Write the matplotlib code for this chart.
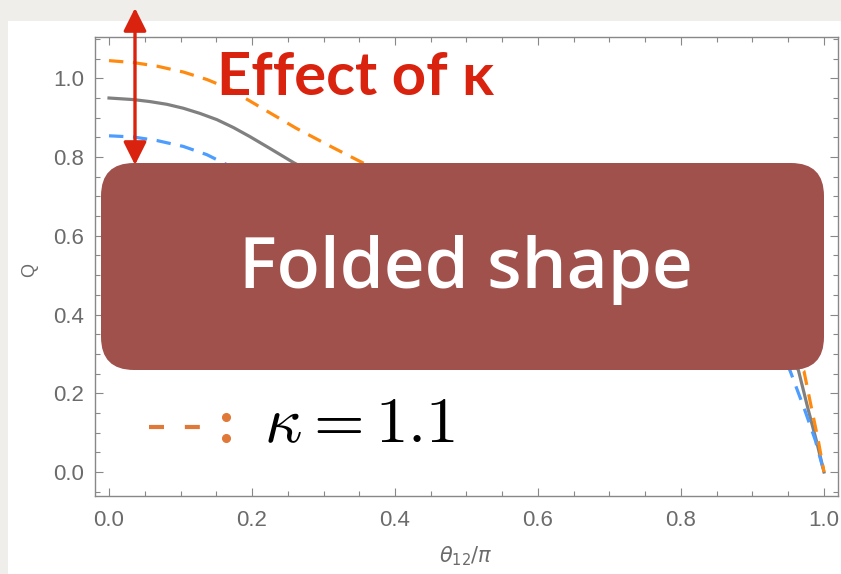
import matplotlib
matplotlib.use("Agg")
import matplotlib.pyplot as plt
from matplotlib.patches import Rectangle, FancyBboxPatch, FancyArrowPatch
from matplotlib.ticker import MultipleLocator

# data (Q vs theta_12/pi); middle part is hidden by the box
x_orange = [0, 0.034, 0.067, 0.104, 0.137, 0.169, 0.19, 0.216, 0.262, 0.309, 0.351, 0.40,
            0.5, 0.65, 0.8, 0.9, 0.95, 0.972, 0.983, 0.992, 1.0]
q_orange = [1.045, 1.040, 1.031, 1.016, 0.997, 0.973, 0.950, 0.922, 0.873, 0.828, 0.789, 0.745,
            0.66, 0.54, 0.43, 0.35, 0.30, 0.256, 0.158, 0.08, 0.0]

x_gray = [0, 0.034, 0.057, 0.081, 0.104, 0.127, 0.151, 0.174, 0.197, 0.225, 0.258, 0.30,
          0.4, 0.5, 0.65, 0.8, 0.9, 0.945, 0.964, 0.978, 0.99, 1.0]
q_gray = [0.950, 0.946, 0.941, 0.934, 0.924, 0.911, 0.895, 0.875, 0.852, 0.822, 0.786, 0.745,
          0.65, 0.57, 0.47, 0.38, 0.32, 0.29, 0.26, 0.158, 0.075, 0.0]

x_blue = [0, 0.034, 0.067, 0.104, 0.137, 0.16, 0.2, 0.3, 0.4, 0.55, 0.7, 0.85, 0.93, 0.952,
          0.973, 0.988, 1.0]
q_blue = [0.854, 0.851, 0.842, 0.827, 0.806, 0.785, 0.75, 0.66, 0.58, 0.48, 0.40, 0.33, 0.295,
          0.26, 0.158, 0.08, 0.0]

W, H = 841, 574
fig = plt.figure(figsize=(W / 100, H / 100), dpi=100)
fig.patch.set_facecolor('#efeeea')
# white slide panel
fig.patches.append(Rectangle((8 / W, 0), 1 - 8 / W, (H - 21) / H, transform=fig.transFigure,
                             facecolor='white', edgecolor='none', zorder=-1))

ax = fig.add_axes([95 / W, (H - 496) / H, (838 - 95) / W, (496 - 37) / H])
ax.set_zorder(1)
ax.set_facecolor('white')
ax.plot(x_gray, q_gray, color='#808080', lw=2.3)
ax.plot(x_blue, q_blue, color='#4d9cff', lw=2.3, dashes=(4.5, 3))
ax.plot(x_orange, q_orange, color='#ff8a10', lw=2.3, dashes=(4.5, 3))
ax.set_xlim(-0.0196, 1.0196)
ax.set_ylim(-0.061, 1.105)

ax.xaxis.set_major_locator(MultipleLocator(0.2))
ax.xaxis.set_minor_locator(MultipleLocator(0.05))
ax.yaxis.set_major_locator(MultipleLocator(0.2))
ax.yaxis.set_minor_locator(MultipleLocator(0.05))
ax.tick_params(which='both', direction='in', top=True, right=True, color='#888888',
               labelcolor='#6b6b6b', labelsize=16, width=0.8)
ax.tick_params(which='major', length=6)
ax.tick_params(which='minor', length=3.5)
ax.tick_params(axis='x', pad=10)
ax.tick_params(axis='y', pad=8)
for lab in ax.get_xticklabels() + ax.get_yticklabels():
    lab.set_family('Liberation Sans')
for s in ax.spines.values():
    s.set_color('#888888')
    s.set_linewidth(1.0)

# overlay in pixel coordinates for slide annotations
ov = fig.add_axes([0, 0, 1, 1], zorder=5)
ov.set_xlim(0, W)
ov.set_ylim(H, 0)
ov.axis('off')
ov.patch.set_alpha(0)

ov.text(30, 270, 'Q', rotation=90, ha='center', va='center', color='#6b6b6b', fontsize=13,
        family='Liberation Sans')
ov.text(466, 556, r'$\theta_{12}/\pi$', ha='center', va='center', color='#6b6b6b', fontsize=15)

ov.add_patch(FancyArrowPatch((135, 8), (135, 165), arrowstyle='<|-|>,head_length=0.7,head_width=0.35',
                             mutation_scale=20, color='#d9230f', lw=2.4, shrinkA=0, shrinkB=0))
ov.text(217, 95, 'Effect of κ', color='#d9230f', fontsize=43, fontweight='bold',
        family=['Lato', 'DejaVu Sans'], ha='left', va='baseline')

ov.add_patch(FancyBboxPatch((101 + 33, 163 + 33), 723 - 66, 207 - 66,
                            boxstyle='round,pad=33,rounding_size=33',
                            facecolor='#a0514c', edgecolor='none'))
ov.text(466, 288, 'Folded shape', color='white', fontsize=51, fontweight='semibold',
        family=['Open Sans', 'DejaVu Sans'], ha='center', va='baseline')

ov.plot([149, 200], [427, 427], color='#e07838', lw=3.0, dashes=(3.6, 5.0), solid_capstyle='butt')
ov.plot([226, 226], [417, 438], 'o', color='#e07838', ms=5.5)
ov.text(264, 442, r'$\kappa = 1.1$', color='black', fontsize=47, math_fontfamily='cm',
        ha='left', va='baseline')

fig.savefig('out.png', dpi=100)
